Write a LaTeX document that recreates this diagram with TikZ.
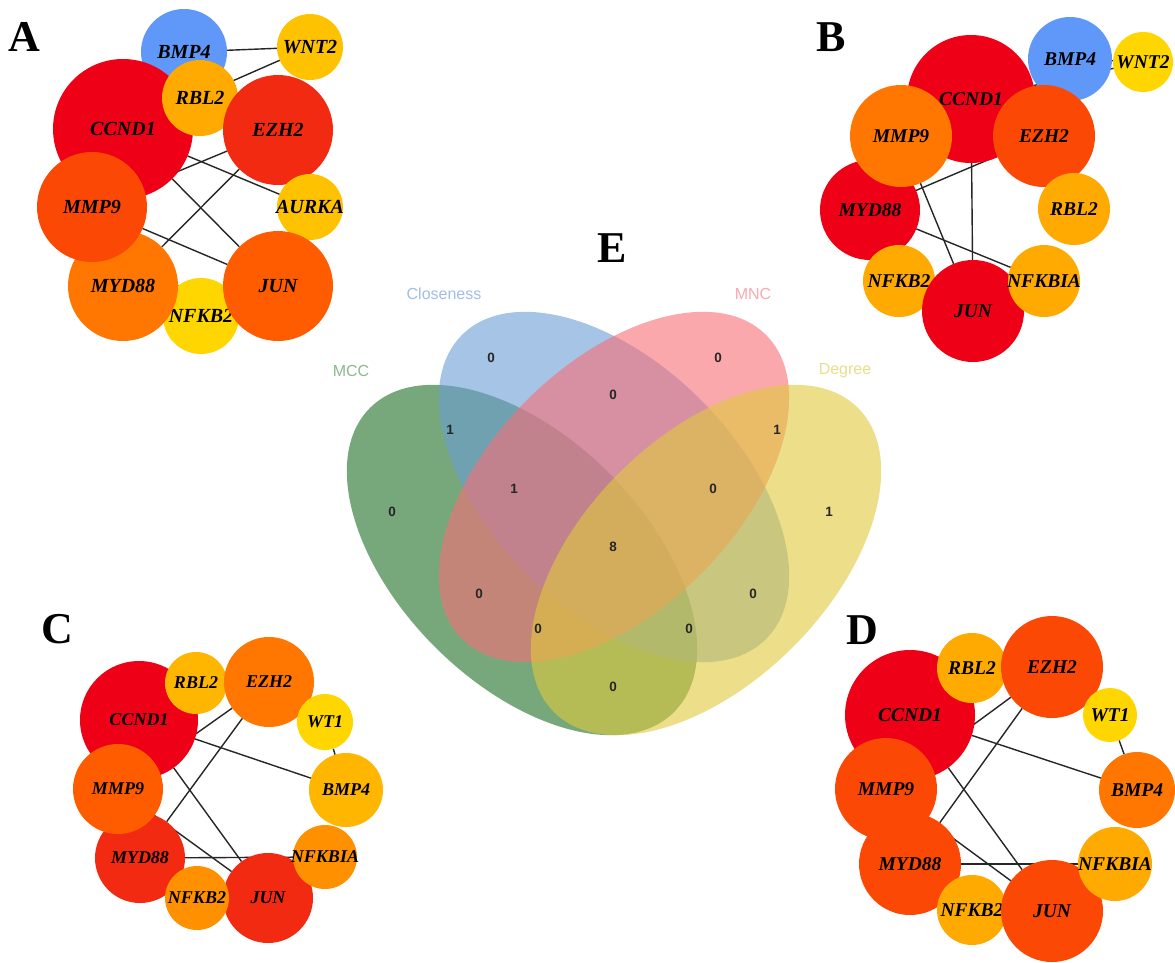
\documentclass[tikz,border=0pt]{standalone}
\usepackage{fontspec}
\setmainfont{Liberation Serif}
\newfontfamily\vennsans{Liberation Sans}
\pgfdeclarelayer{bglayer}
\pgfdeclarelayer{edgelayer}
\pgfsetlayers{bglayer,edgelayer,main}
\newcommand{\gl}[1]{\makebox[0pt]{#1}}
% network colours
\definecolor{nRed}{RGB}{238,0,22}
\definecolor{nRedOr}{RGB}{242,42,18}
\definecolor{nOrRed}{RGB}{252,72,5}
\definecolor{nOrange}{RGB}{255,118,0}
\definecolor{nOr2}{RGB}{255,92,0}
\definecolor{nAmber}{RGB}{255,170,0}
\definecolor{nGold}{RGB}{255,194,0}
\definecolor{nYellow}{RGB}{255,214,0}
\definecolor{nBlue}{RGB}{95,152,248}
\definecolor{nOr3}{RGB}{255,145,0}
\definecolor{nOr4}{RGB}{255,182,0}
% venn colours
\definecolor{vGreen}{RGB}{27,110,37}
\definecolor{vBlue}{RGB}{108,157,213}
\definecolor{vPink}{RGB}{247,110,117}
\definecolor{vYellow}{RGB}{225,202,60}
\definecolor{lGreen}{RGB}{140,185,140}
\definecolor{lBlue}{RGB}{160,190,232}
\definecolor{lPink}{RGB}{248,170,175}
\definecolor{lYellow}{RGB}{234,222,140}
\tikzset{
  gene/.style={circle, inner sep=0pt, outer sep=0pt, draw=none, text=black, minimum size=#1},
  fA/.style={font=\fontsize{20}{20}\selectfont\bfseries\itshape},
  fB/.style={font=\fontsize{19.5}{19.5}\selectfont\bfseries\itshape},
  fC/.style={font=\fontsize{18}{18}\selectfont\bfseries\itshape},
  fD/.style={font=\fontsize{19.5}{19.5}\selectfont\bfseries\itshape},
  link/.style={line width=1.4pt, draw=black!85},
  panel/.style={font=\fontsize{44}{44}\selectfont\bfseries, inner sep=0pt},
  vnum/.style={font=\vennsans\bfseries\fontsize{13.5}{13.5}\selectfont, text=black!85, inner sep=0pt},
  vlab/.style={font=\vennsans\fontsize{16}{16}\selectfont, inner sep=0pt},
  vset/.style={fill opacity=0.6},
}
\begin{document}
\begin{tikzpicture}[x=1pt,y=-1pt]
\useasboundingbox (0,0) rectangle (1175,962);
\begin{pgfonlayer}{bglayer}
\fill[white] (0,0) rectangle (1175,962);
\end{pgfonlayer}

% ---------------- Venn diagram (E) ----------------
\fill[vGreen, vset, rotate around={-45:(522,560)}] (522,560) ellipse [x radius=215pt, y radius=123pt];
\fill[vBlue, vset, rotate around={-45:(614,487)}] (614,487) ellipse [x radius=215pt, y radius=123pt];
\fill[vPink, vset, rotate around={45:(614,487)}] (614,487) ellipse [x radius=215pt, y radius=123pt];
\fill[vYellow, vset, rotate around={45:(706,560)}] (706,560) ellipse [x radius=215pt, y radius=123pt];

\node[vlab, text=lBlue] (labClose) at (444,294) {Closeness};
\node[vlab, text=lPink] (labMNC) at (753,294) {MNC};
\node[vlab, text=lGreen] (labMCC) at (351,371) {MCC};
\node[vlab, text=lYellow] (labDeg) at (845,371) {Degree};

\node[vnum] (v1) at (491,358) {0};
\node[vnum] (v2) at (718,358) {0};
\node[vnum] (v3) at (450,430) {1};
\node[vnum] (v4) at (613,395) {0};
\node[vnum] (v5) at (777,430) {1};
\node[vnum] (v6) at (392,512) {0};
\node[vnum] (v7) at (829,512) {1};
\node[vnum] (v8) at (514,489) {1};
\node[vnum] (v9) at (713,489) {0};
\node[vnum] (v10) at (613,547) {8};
\node[vnum] (v11) at (479,594) {0};
\node[vnum] (v12) at (753,594) {0};
\node[vnum] (v13) at (538,629) {0};
\node[vnum] (v14) at (689,629) {0};
\node[vnum] (v15) at (613,687) {0};

\node[panel] (labE) at (612,248) {E};

% ---------------- Panel A ----------------
\node[panel] (labA) at (24,37) {A};
\node[gene=86pt, fill=nBlue, fA] (A-BMP4) at (184,52) {\gl{BMP4}};
\node[gene=66pt, fill=nGold, fA] (A-WNT2) at (310,47) {\gl{WNT2}};
\node[gene=140pt, fill=nRed, fA] (A-CCND1) at (123,129) {\gl{CCND1}};
\node[gene=76pt, fill=nAmber, fA] (A-RBL2) at (200,98) {\gl{RBL2}};
\node[gene=110pt, fill=nRedOr, fA] (A-EZH2) at (278,130) {\gl{EZH2}};
\node[gene=66pt, fill=nGold, fA] (A-AURKA) at (310,207) {\gl{AURKA}};
\node[gene=76pt, fill=nYellow, fA] (A-NFKB2) at (201,316) {\gl{NFKB2}};
\node[gene=110pt, fill=nOrange, fA] (A-MYD88) at (123,286) {\gl{MYD88}};
\node[gene=110pt, fill=nOrRed, fA] (A-MMP9) at (92,207) {\gl{MMP9}};
\node[gene=110pt, fill=nOr2, fA] (A-JUN) at (278,286) {\gl{JUN}};
\begin{pgfonlayer}{edgelayer}
\draw[link] (A-BMP4) -- (A-WNT2);
\draw[link] (A-CCND1) -- (A-WNT2);
\draw[link] (A-CCND1) -- (A-AURKA);
\draw[link] (A-MMP9) -- (A-EZH2);
\draw[link] (A-CCND1) -- (A-JUN);
\draw[link] (A-MYD88) -- (A-EZH2);
\draw[link] (A-MMP9) -- (A-JUN);
\draw[link] (A-MYD88) -- (A-JUN);
\end{pgfonlayer}

% ---------------- Panel B ----------------
\node[panel] (labB) at (831,37) {B};
\node[gene=128pt, fill=nRed, fB] (B-CCND1) at (971,99) {\gl{CCND1}};
\node[gene=84pt, fill=nBlue, fB] (B-BMP4) at (1070,59) {\gl{BMP4}};
\node[gene=60pt, fill=nYellow, fB] (B-WNT2) at (1143,62) {\gl{WNT2}};
\node[gene=102pt, fill=nOrRed, fB] (B-EZH2) at (1044,136) {\gl{EZH2}};
\node[gene=100pt, fill=nRed, fB] (B-MYD88) at (870,210) {\gl{MYD88}};
\node[gene=102pt, fill=nOrange, fB] (B-MMP9) at (901,136) {\gl{MMP9}};
\node[gene=72pt, fill=nAmber, fB] (B-RBL2) at (1074,209) {\gl{RBL2}};
\node[gene=72pt, fill=nAmber, fB] (B-NFKB2) at (899,281) {\gl{NFKB2}};
\node[gene=102pt, fill=nRed, fB] (B-JUN) at (973,311) {\gl{JUN}};
\node[gene=72pt, fill=nAmber, fB] (B-NFKBIA) at (1044,281) {\gl{NFKBIA}};
\begin{pgfonlayer}{edgelayer}
\draw[link] (B-BMP4) -- (B-WNT2);
\draw[link] (B-CCND1) -- (B-WNT2);
\draw[link] (B-MYD88) -- (B-EZH2);
\draw[link] (B-MMP9) -- (B-JUN);
\draw[link] (B-CCND1) -- (B-JUN);
\draw[link] (B-MYD88) -- (B-NFKBIA);
\end{pgfonlayer}

% ---------------- Panel C ----------------
\node[panel] (labC) at (57,629) {C};
\node[gene=118pt, fill=nRed, fC] (C-CCND1) at (139,720) {\gl{CCND1}};
\node[gene=62pt, fill=nOr4, fC] (C-RBL2) at (196,683) {\gl{RBL2}};
\node[gene=90pt, fill=nOrange, fC] (C-EZH2) at (269,682) {\gl{EZH2}};
\node[gene=56pt, fill=nYellow, fC] (C-WT1) at (325,722) {\gl{WT1}};
\node[gene=74pt, fill=nOr4, fC] (C-BMP4) at (346,790) {\gl{BMP4}};
\node[gene=90pt, fill=nRedOr, fC] (C-MYD88) at (140,858) {\gl{MYD88}};
\node[gene=90pt, fill=nOr2, fC] (C-MMP9) at (118,789) {\gl{MMP9}};
\node[gene=90pt, fill=nRedOr, fC] (C-JUN) at (268,898) {\gl{JUN}};
\node[gene=64pt, fill=nOr3, fC] (C-NFKB2) at (197,898) {\gl{NFKB2}};
\node[gene=64pt, fill=nOr3, fC] (C-NFKBIA) at (325,857) {\gl{NFKBIA}};
\begin{pgfonlayer}{edgelayer}
\draw[link] (C-MMP9) -- (C-EZH2);
\draw[link] (C-MYD88) -- (C-EZH2);
\draw[link] (C-CCND1) -- (C-BMP4);
\draw[link] (C-WT1) -- (C-BMP4);
\draw[link] (C-CCND1) -- (C-JUN);
\draw[link] (C-MMP9) -- (C-JUN);
\draw[link] (C-MYD88) -- (C-NFKBIA);
\end{pgfonlayer}

% ---------------- Panel D ----------------
\node[panel] (labD) at (862,630) {D};
\node[gene=130pt, fill=nRed, fD] (D-CCND1) at (910,715) {\gl{CCND1}};
\node[gene=70pt, fill=nAmber, fD] (D-RBL2) at (972,668) {\gl{RBL2}};
\node[gene=102pt, fill=nOrRed, fD] (D-EZH2) at (1052,667) {\gl{EZH2}};
\node[gene=54pt, fill=nYellow, fD] (D-WT1) at (1110,715) {\gl{WT1}};
\node[gene=76pt, fill=nOrange, fD] (D-BMP4) at (1137,790) {\gl{BMP4}};
\node[gene=102pt, fill=nOrRed, fD] (D-MMP9) at (886,789) {\gl{MMP9}};
\node[gene=102pt, fill=nOrRed, fD] (D-MYD88) at (910,864) {\gl{MYD88}};
\node[gene=70pt, fill=nAmber, fD] (D-NFKB2) at (972,910) {\gl{NFKB2}};
\node[gene=102pt, fill=nOrRed, fD] (D-JUN) at (1052,911) {\gl{JUN}};
\node[gene=74pt, fill=nAmber, fD] (D-NFKBIA) at (1115,864) {\gl{NFKBIA}};
\begin{pgfonlayer}{edgelayer}
\draw[link] (D-MMP9) -- (D-EZH2);
\draw[link] (D-MYD88) -- (D-EZH2);
\draw[link] (D-CCND1) -- (D-BMP4);
\draw[link] (D-WT1) -- (D-BMP4);
\draw[link] (D-CCND1) -- (D-JUN);
\draw[link] (D-MMP9) -- (D-JUN);
\draw[link] (D-MYD88) -- (D-NFKBIA);
\end{pgfonlayer}
\end{tikzpicture}
\end{document}
